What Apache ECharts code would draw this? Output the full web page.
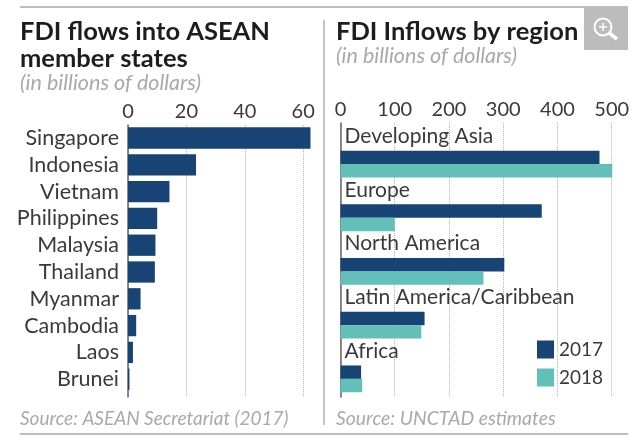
<!DOCTYPE html>
<html><head><meta charset="utf-8">
<style>html,body{margin:0;padding:0;background:#fff}#c{width:640px;height:442px}</style>
<script src="https://cdn.jsdelivr.net/npm/echarts@6/dist/echarts.min.js"></script></head>
<body><div id="c"></div>
<script>
const countries = ['Singapore','Indonesia','Vietnam','Philippines','Malaysia','Thailand','Myanmar','Cambodia','Laos','Brunei'];
const countryValues = [62.5,23.3,14.2,10,9.4,9.2,4.3,2.8,1.7,0.5];
const regions = ['Developing Asia','Europe','North America','Latin America/Caribbean','Africa'];
const values2017 = [477.5,371,302,155,38];
const values2018 = [501,100,263.5,149,40];
const NAVY='#174475', TEAL='#62c0b8', FONT='Lato', TXT='#3a3a3a', GREY='#a9a9a9';

const chart = echarts.init(document.getElementById('c'),null,{renderer:'canvas'});
const ttl=(text,left,top,fs,extra)=>Object.assign({text,left,top,padding:0,
  textStyle:{fontFamily:FONT,fontSize:fs,fontWeight:700,color:'#1d1d1d',lineHeight:27}},extra||{});
const sub=(text,left,top,fs)=>({text,left,top,padding:0,
  textStyle:{fontFamily:FONT,fontSize:fs,fontWeight:400,fontStyle:'italic',color:GREY}});
const frameX=(gridIndex,max,interval)=>({type:'value',gridIndex,min:0,max,interval,position:'top',
  axisLine:{show:false},axisTick:{show:false},
  axisLabel:{fontFamily:FONT,fontSize:20,color:TXT,margin:3,hideOverlap:false},
  splitLine:{show:true,lineStyle:{type:'dotted',color:'#b5b5b5',width:1}}});
const frameY=(gridIndex)=>({type:'value',gridIndex,min:0,max:1,
  axisLine:{show:true,onZero:false,lineStyle:{color:'#666',width:1.5}},
  axisTick:{show:false},axisLabel:{show:false},splitLine:{show:false}});
const hiddenX=(gridIndex,max)=>({type:'value',gridIndex,min:0,max,show:false});

chart.setOption({
  animation:false,backgroundColor:'#fff',
  title:[
    ttl('FDI flows into ASEAN\nmember states',20,18,25.5),
    sub('(in billions of dollars)',20,72,21.5),
    ttl('FDI Inflows by region',336,18,25.5),
    sub('(in billions of dollars)',336,45,21.5),
    sub('Source: ASEAN Secretariat (2017)',20,409,19),
    sub('Source: UNCTAD estimates',336,409,19.4)
  ],
  grid:[
    {left:128,top:125,width:175.2,height:272},
    {left:128,top:124.6,width:175.2,height:268},
    {left:340.5,top:123,width:271.2,height:274},
    {left:340.5,top:137.2,width:271.2,height:268.5}
  ],
  xAxis:[frameX(0,60,20),hiddenX(1,60),frameX(2,500,100),hiddenX(3,500)],
  yAxis:[
    frameY(0),
    {type:'category',gridIndex:1,data:countries,inverse:true,
      axisLine:{show:false},axisTick:{show:false},splitLine:{show:false},
      axisLabel:{interval:0,hideOverlap:false,fontFamily:FONT,fontSize:21.5,color:TXT,margin:9}},
    frameY(2),
    {type:'category',gridIndex:3,data:regions,inverse:true,show:false}
  ],
  legend:{orient:'vertical',left:537,top:340,itemWidth:17,itemHeight:18,itemGap:9,padding:0,
    data:['2017','2018'],icon:'rect',textStyle:{fontFamily:FONT,fontSize:19,color:TXT,padding:[0,0,0,0]}},
  series:[
    {type:'bar',name:'ASEAN',xAxisIndex:1,yAxisIndex:1,data:countryValues,barWidth:21.3,clip:false,
      itemStyle:{color:NAVY},z:3},
    {type:'bar',name:'2017',xAxisIndex:3,yAxisIndex:3,data:values2017,barWidth:13.4,barGap:0,clip:false,
      itemStyle:{color:NAVY},z:3,
      label:{show:true,formatter:'{b}',position:[4,-25],fontFamily:FONT,fontSize:21,color:TXT}},
    {type:'bar',name:'2018',xAxisIndex:3,yAxisIndex:3,data:values2018,barWidth:13.4,barGap:0,clip:false,
      itemStyle:{color:TEAL},z:3}
  ],
  graphic:[
    {type:'line',shape:{x1:20,y1:7,x2:628,y2:7},style:{stroke:'#a8a8a8',lineWidth:1.5},silent:true},
    {type:'line',shape:{x1:20,y1:434,x2:628,y2:434},style:{stroke:'#a8a8a8',lineWidth:1.5},silent:true},
    {type:'line',shape:{x1:324,y1:20,x2:324,y2:425},style:{stroke:'#b0b0b0',lineWidth:1.5},silent:true},
    {type:'rect',shape:{x:584,y:8,width:44,height:42},style:{fill:'#bcbcbc'},silent:true},
    {type:'circle',shape:{cx:603,cy:27,r:8.5},style:{fill:'none',stroke:'#fff',lineWidth:2},silent:true},
    {type:'line',shape:{x1:609,y1:33,x2:617,y2:39},style:{stroke:'#fff',lineWidth:3.5},silent:true},
    {type:'line',shape:{x1:599,y1:27,x2:607,y2:27},style:{stroke:'#fff',lineWidth:1.5},silent:true},
    {type:'line',shape:{x1:603,y1:23,x2:603,y2:31},style:{stroke:'#fff',lineWidth:1.5},silent:true}
  ]
});
</script></body></html>
